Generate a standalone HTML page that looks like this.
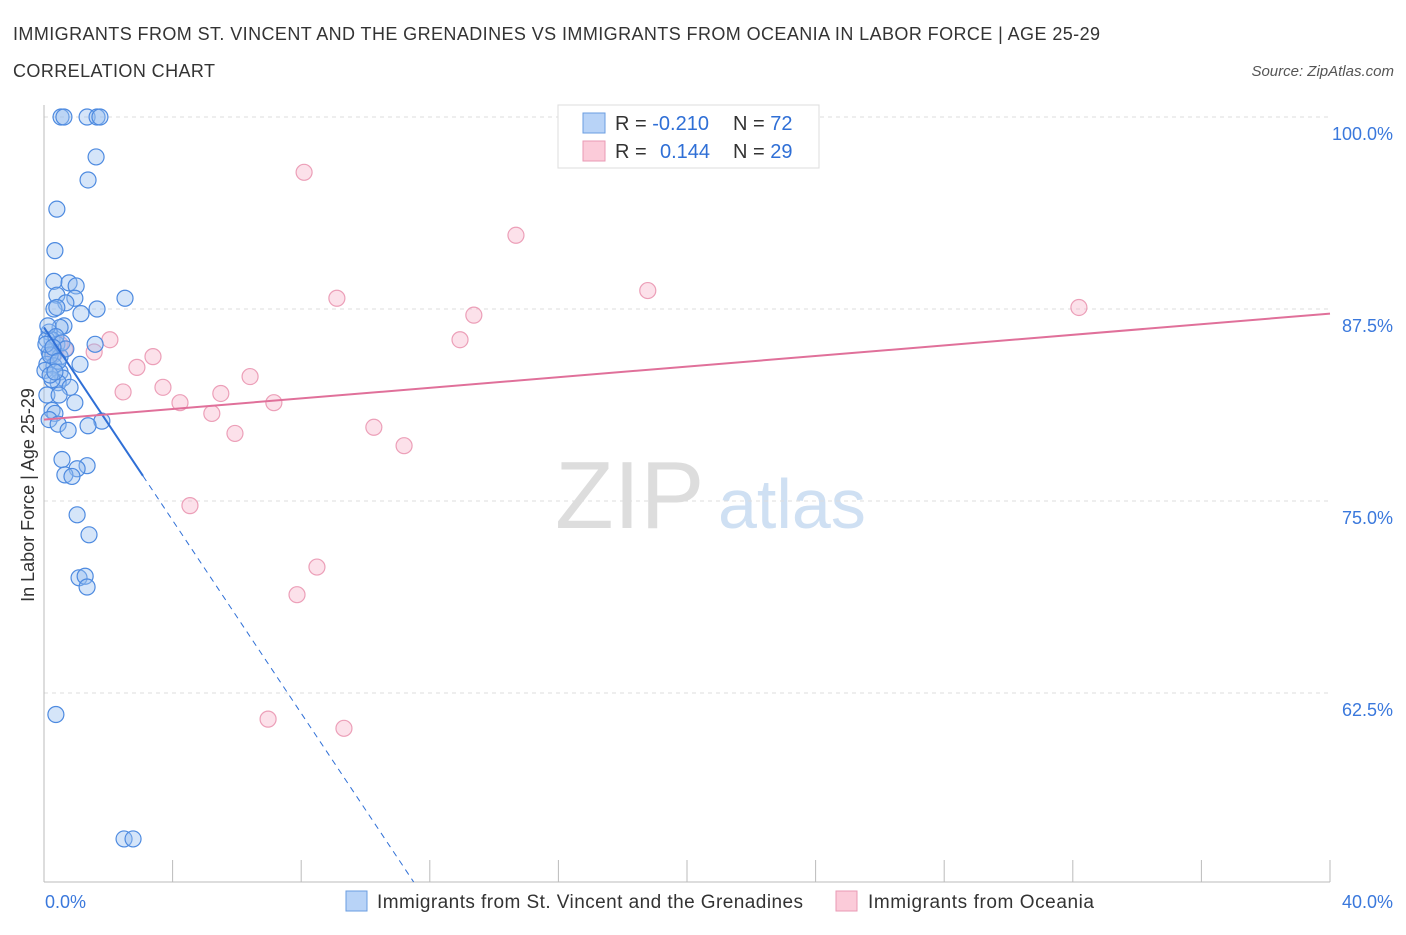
<!DOCTYPE html>
<html><head><meta charset="utf-8"><style>
body{margin:0;background:#fff;font-family:"Liberation Sans",sans-serif;}
svg text{font-family:"Liberation Sans",sans-serif;}
</style></head><body>
<svg id="c" width="1406" height="930">
<text x="13" y="40" font-size="18" fill="#333" textLength="1087">IMMIGRANTS FROM ST. VINCENT AND THE GRENADINES VS IMMIGRANTS FROM OCEANIA IN LABOR FORCE | AGE 25-29</text>
<text x="13" y="77" font-size="18" fill="#333" textLength="202">CORRELATION CHART</text>
<text x="1394" y="76" font-size="15" fill="#555" font-style="italic" text-anchor="end">Source: ZipAtlas.com</text>
<text x="555" y="528" font-size="96" fill="#ddd" font-family="Liberation Serif">ZIP</text>
<text x="718" y="528" font-size="70" fill="#cfe0f3">atlas</text>
<text transform="translate(34,495) rotate(-90)" font-size="18" fill="#333" text-anchor="middle">In Labor Force | Age 25-29</text>
<g id="grid"></g><g id="marks"></g>
<g>
<rect x="558" y="105" width="261" height="63" fill="#fff" stroke="#ddd"/>
<rect x="583" y="113" width="22" height="20" fill="#b8d3f7" stroke="#6a9de0"/>
<rect x="583" y="141" width="22" height="20" fill="#fbcbd9" stroke="#e99ab4"/>
<text x="615" y="130" font-size="20" fill="#333">R = <tspan fill="#2f6fd6">-0.210</tspan></text>
<text x="733" y="130" font-size="20" fill="#333">N = <tspan fill="#2f6fd6">72</tspan></text>
<text x="615" y="158" font-size="20" fill="#333">R = <tspan fill="#2f6fd6" x="660">0.144</tspan></text>
<text x="733" y="158" font-size="20" fill="#333">N = <tspan fill="#2f6fd6">29</tspan></text>
</g>
<g>
<rect x="346" y="891" width="21" height="20" fill="#b8d3f7" stroke="#6a9de0"/>
<text x="377" y="908" font-size="19" fill="#333" textLength="426">Immigrants from St. Vincent and the Grenadines</text>
<rect x="836" y="891" width="21" height="20" fill="#fbcbd9" stroke="#e99ab4"/>
<text x="868" y="908" font-size="19" fill="#333" textLength="226">Immigrants from Oceania</text>
</g>
</svg>
<script>
const blueX=[0.53,0.62,1.34,1.65,1.74,1.62,1.37,0.40,0.34,0.31,0.78,1.00,0.40,0.96,0.68,2.52,1.65,0.31,0.40,1.15,0.62,0.50,0.16,0.25,0.40,1.59,0.16,0.28,0.50,1.12,0.09,0.31,0.50,0.59,0.44,0.81,0.09,0.47,0.96,0.25,0.34,0.16,0.44,1.80,1.37,0.75,0.56,1.34,1.03,0.65,0.87,1.03,1.40,1.09,1.28,1.34,0.37,2.49,2.77,0.09,0.19,0.03,0.25,0.12,0.37,0.56,0.68,0.06,0.28,0.44,0.19,0.34];
const blueY=[100,100,100,100,100,97.4,95.9,94.0,91.3,89.3,89.2,89.0,88.4,88.2,87.9,88.2,87.5,87.5,87.6,87.2,86.4,86.3,86.0,85.5,85.2,85.2,84.7,84.5,84.4,83.9,83.9,83.8,83.4,83.0,82.7,82.4,81.9,81.9,81.4,80.9,80.7,80.3,80.0,80.2,79.9,79.6,77.7,77.3,77.1,76.7,76.6,74.1,72.8,70.0,70.1,69.4,61.1,53.0,53.0,85.5,84.5,83.5,82.9,86.4,85.7,85.3,84.9,85.2,85.0,84.1,83.2,83.4];
const pinkX=[8.09,14.68,18.78,9.11,32.19,13.37,12.94,2.05,1.56,0.65,3.39,2.89,6.41,2.46,3.70,5.50,4.23,7.15,5.22,10.26,5.94,11.20,4.54,8.49,7.87,6.97,9.33,0.34,0.50];
const pinkY=[96.4,92.3,88.7,88.2,87.6,87.1,85.5,85.5,84.7,84.9,84.4,83.7,83.1,82.1,82.4,82.0,81.4,81.4,80.7,79.8,79.4,78.6,74.7,70.7,68.9,60.8,60.2,84.6,85.2];
const yTicks=[100,87.5,75,62.5];
const yTickLabels=["100.0%","87.5%","75.0%","62.5%"];
const xTicks=[0,4,8,12,16,20,24,28,32,36,40];
const xTickLabels=["0.0%","40.0%"];
const blueTrend=[86.3,-3.14];const pinkTrend=[80.3,0.1725];
const X=v=>44+v/40*1286, Y=v=>117+(100-v)*15.36;
const NS="http://www.w3.org/2000/svg";
function mk(t,a,p){const e=document.createElementNS(NS,t);for(const k in a)e.setAttribute(k,a[k]);p.appendChild(e);return e;}
const g=document.getElementById('grid'),m=document.getElementById('marks');
yTicks.forEach((t,i)=>{
 const l=mk('line',{x1:44,x2:1330,y1:Y(t),y2:Y(t),stroke:'#ddd','stroke-dasharray':'4,4'},g);
 
 
 const tx=mk('text',{x:1393,y:Y(t)+23,'font-size':18,fill:'#3a78dc','text-anchor':'end'},g);tx.textContent=yTickLabels[i];
 
 
});
mk('line',{x1:44,x2:44,y1:105,y2:882,stroke:'#bbb'},g);
mk('line',{x1:44,x2:1330,y1:882,y2:882,stroke:'#bbb'},g);
xTicks.forEach(t=>{const l=mk('line',{x1:X(t),x2:X(t),y1:860,y2:882,stroke:'#bbb'},g);
 
 });
[[0,'start',45],[40,'end',1393]].forEach((d,i)=>{const tx=mk('text',{x:d[2],y:908,'font-size':18,fill:'#3a78dc','text-anchor':d[1]},g);tx.textContent=xTickLabels[i];
 
 });
pinkX.forEach((x,i)=>{const c=mk('circle',{cx:X(x),cy:Y(pinkY[i]),r:8,fill:'rgba(246,170,195,0.35)',stroke:'#ec9fb8','stroke-width':1.2},m);
 
 });
blueX.forEach((x,i)=>{const c=mk('circle',{cx:X(x),cy:Y(blueY[i]),r:8,fill:'rgba(150,190,240,0.4)',stroke:'#4d8ae0','stroke-width':1.2},m);
 
 });
const bx=x=>blueTrend[0]+blueTrend[1]*x, px=x=>pinkTrend[0]+pinkTrend[1]*x;
const b1=mk('line',{x1:X(0),y1:Y(bx(0)),x2:X(3.08),y2:Y(bx(3.08)),stroke:'#2f6fd6','stroke-width':2},m);


const xe=(50.2-blueTrend[0])/blueTrend[1];
const b2=mk('line',{x1:X(3.08),y1:Y(bx(3.08)),x2:X(xe),y2:Y(bx(xe)),stroke:'#2f6fd6','stroke-width':1,'stroke-dasharray':'6,5'},m);


const p1=mk('line',{x1:X(0),y1:Y(px(0)),x2:X(40),y2:Y(px(40)),stroke:'#e0709a','stroke-width':2},m);


</script>
</body></html>
